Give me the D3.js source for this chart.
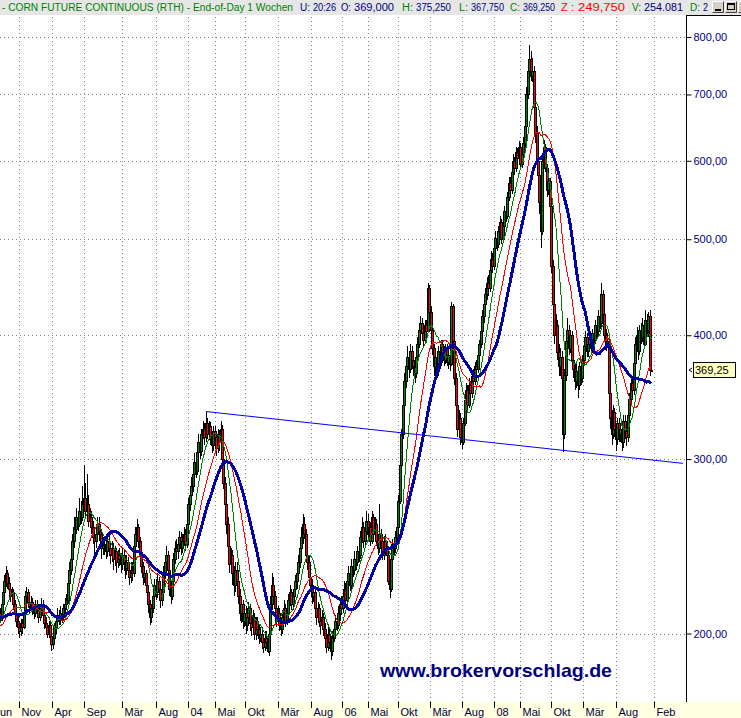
<!DOCTYPE html>
<html><head><meta charset="utf-8">
<script src="https://cdn.jsdelivr.net/npm/d3@7"></script>
<style>body{margin:0;background:#fff;} svg{display:block;font-family:Arial,"Liberation Sans",sans-serif;}</style>
</head><body><svg id="c" width="741" height="718"></svg>
<script>
// ---- data (weekly bars, first 30 are warm-up bars left of the visible area) ----
const warmup = 30;
const closes = [
218,216,220,214,212,216,218,214,210,212,215,208,204,200,203,198,202,200,204,198,200,204,206,202,208,204,200,206,210,208,
214,220,226,230,225,222,218,220,214,210,206,203,201,205,203,210,218,220,215,213,
215,212,210,214,211,208,212,214,209,205,203,200,204,199,195,198,203,206,209,207,
210,208,212,214,216,225,232,238,248,256,255,262,258,266,262,270,274,266,270,260,
262,256,250,248,252,258,254,252,244,246,246,242,248,244,240,244,238,242,236,240,
238,235,240,236,233,236,232,228,232,230,245,252,256,248,240,234,228,230,224,220,
214,208,212,218,224,220,226,222,216,220,230,236,240,232,222,218,226,238,244,242,
246,250,244,248,252,246,258,270,276,282,290,298,292,305,312,306,318,322,316,326,
318,324,314,310,320,316,308,318,312,322,300,284,270,258,245,235,240,230,224,232,
226,218,210,214,206,210,204,208,212,205,203,208,200,206,202,198,200,196,194,198,
196,192,200,214,224,218,212,206,210,204,202,208,212,206,210,216,220,214,218,222,
226,230,236,244,250,258,252,240,236,228,224,218,220,212,208,212,206,204,208,202,
198,194,200,196,192,198,202,206,204,210,214,212,218,222,216,226,230,224,234,232,
238,236,242,240,250,256,248,254,260,252,256,248,262,252,258,248,244,252,248,240,
248,244,240,226,222,238,246,244,250,256,272,296,318,340,360,372,380,370,386,378,
372,366,380,392,405,412,402,396,410,404,446,422,405,388,372,380,368,386,376,392,
384,378,388,376,382,374,428,395,362,340,322,330,316,312,326,344,352,340,356,350,
364,360,372,370,382,392,404,418,430,440,452,446,466,478,470,490,502,494,510,520,
500,516,534,528,552,570,560,584,600,590,612,604,620,596,610,626,650,700,740,760,
730,740,680,640,600,580,545,510,600,620,590,560,572,540,470,430,400,410,385,372,
380,362,318,365,395,405,388,400,378,370,360,368,356,372,362,378,390,398,386,392,
398,388,402,396,410,404,418,412,440,420,400,392,395,350,330,318,335,322,314,326,
318,322,312,328,320,316,332,345,358,352,375,392,400,386,405,398,410,392,414,405,
418,369,369.25];
const highs = [
221,220,222,221,216,218,221,219,215,214,217,216,209,205,206,204,204,203,206,205,202,206,209,207,210,209,206,208,213,212,
216,223,229,234,232,228,225,223,222,216,212,209,205,207,207,212,221,223,222,217,
218,217,214,216,216,213,214,217,216,211,208,205,206,206,201,200,205,208,212,211,
213,212,214,217,219,228,236,242,252,262,262,268,266,274,272,282,296,284,290,276,
268,266,260,254,256,262,262,258,255,250,251,249,252,251,247,248,247,245,244,243,
244,241,244,243,239,240,239,234,236,236,248,256,261,258,250,243,236,233,232,226,
222,216,214,221,227,227,230,228,224,223,234,240,245,242,234,225,229,241,248,249,
250,254,253,252,256,255,262,274,282,288,294,304,302,310,318,316,322,328,326,335,
330,328,327,318,324,324,320,322,321,328,325,304,288,274,262,250,244,243,234,236,
236,229,222,217,216,213,213,211,215,214,208,211,210,208,208,204,203,203,199,201,
201,199,203,218,230,228,221,214,213,212,207,211,216,214,213,219,224,222,221,226,
229,234,240,248,256,264,262,255,244,240,232,227,224,222,215,215,214,209,211,210,
205,201,203,203,199,201,205,209,210,213,217,218,221,226,225,229,234,232,238,238,
242,241,245,246,254,262,259,258,266,264,260,259,266,264,262,261,251,270,255,250,
251,252,248,243,230,240,249,250,254,260,276,300,322,345,366,378,390,384,392,390,
384,378,384,398,410,418,416,408,414,414,452,450,428,410,392,386,384,390,390,396,
396,390,392,392,386,386,432,430,398,366,344,336,334,322,330,348,358,356,362,360,
368,370,376,378,386,396,410,424,436,446,458,460,472,486,484,496,510,508,516,528,
524,522,540,542,558,578,578,590,610,606,620,618,628,626,616,634,660,712,758,785,
775,762,748,690,650,612,590,556,606,630,624,596,578,576,545,476,436,420,414,392,
388,386,368,370,400,416,410,404,404,384,374,374,372,376,376,382,396,404,402,396,
404,402,406,408,414,414,424,422,452,444,424,406,402,398,356,336,340,338,326,330,
330,326,326,332,332,324,336,350,362,362,380,398,408,404,410,412,416,414,424,420,
422,424,375.25];
const lows = [
214,213,214,212,210,211,214,212,208,208,210,206,202,198,199,196,197,198,199,196,196,199,202,200,201,201,198,199,205,205,
206,211,218,223,222,219,215,216,211,207,203,200,198,199,200,202,208,215,212,210,
211,209,207,208,208,205,206,210,207,202,200,198,198,196,192,193,196,200,204,204,
204,205,206,209,211,214,222,229,235,244,249,252,254,256,258,260,266,262,262,256,
256,252,246,240,244,249,248,247,238,240,240,238,239,240,235,236,232,234,230,233,
234,230,232,231,227,229,228,224,225,226,228,242,248,244,237,230,224,225,220,215,
210,204,205,210,215,216,217,218,212,213,217,227,233,228,218,214,216,223,235,238,
238,243,240,241,245,242,244,255,266,272,278,286,287,289,300,300,302,314,310,312,
314,314,310,304,306,310,302,304,306,308,296,280,266,252,240,230,232,224,218,220,
222,214,206,205,202,203,200,201,204,201,199,200,197,197,199,195,196,193,191,192,
193,191,190,198,211,214,209,203,204,201,199,200,206,203,204,208,213,211,211,215,
219,222,227,233,240,246,249,238,232,225,220,214,215,209,204,205,203,200,202,199,
195,191,192,193,188,190,196,199,201,202,206,209,210,215,213,214,223,221,222,228,
229,232,234,236,238,247,244,245,251,249,248,245,246,249,250,245,240,241,244,237,
237,241,236,224,217,220,234,240,241,247,254,270,292,314,336,354,364,362,366,370,
364,358,362,376,388,400,398,388,392,398,402,418,400,382,364,366,362,364,370,372,
380,372,374,372,370,368,372,390,356,334,316,318,310,307,310,324,340,336,338,344,
346,354,356,364,366,378,388,400,412,424,434,438,442,460,462,466,486,486,490,504,
494,496,510,520,524,546,552,556,578,580,584,596,598,590,590,604,620,644,692,726,
722,720,670,626,590,566,530,490,505,592,584,552,554,532,462,424,392,394,378,364,
364,356,305,314,360,390,382,384,372,362,352,354,346,352,356,358,374,386,380,380,
388,382,384,390,392,398,400,406,408,414,396,386,388,344,322,310,314,316,306,310,
312,312,306,308,314,309,312,328,340,346,348,370,386,378,382,392,394,388,390,398,
398,364,367.75];

const maPeriods = [10, 20, 30];
const maColors = ["#008000", "#ff0000", "#0000a8"];
const maWidths = [1, 1, 3];

const yTicks = [200, 300, 400, 500, 600, 700, 800];
const xTickLabels = ["Jun","Nov","Apr","Sep","Mär","Aug","04","Mai","Okt","Mär","Aug","06","Mai","Okt","Mär","Aug","08","Mai","Okt","Mär","Aug","Feb"];
const xTickIdx = [23.5,41.9,64.1,86.1,112.3,135.1,156.9,175.2,195.6,218.1,240.5,261.6,279,299.7,321.2,343.3,365,382.7,403.8,425.6,448,473.8];

const trendIdx = [169.1, 493.6];
const trendVal = [335, 297];
const lastPrice = 369.25;

// header pieces: [x, width, text, colour, fontSize]
const headerParts = [
  [2, 291, "- CORN FUTURE CONTINUOUS (RTH) - End-of-Day 1 Wochen", "#008000", 10],
  [300, 10, "U:", "#000080", 10], [313, 23, "20:26", "#000080", 10],
  [341, 10, "O:", "#000080", 10], [354, 40, "369,000", "#000080", 10],
  [402, 11, "H:", "#008000", 10], [416, 35, "375,250", "#000080", 10],
  [459, 9, "L:", "#008000", 10], [471, 33, "367,750", "#000080", 10],
  [510, 10, "C:", "#008000", 10], [523, 32, "369,250", "#000080", 10],
  [561, 13, "Z :", "#ff0000", 11], [578, 47, "249,750", "#ff0000", 11],
  [632, 9, "V:", "#008000", 10], [644, 39, "254.081", "#000080", 10],
  [690, 10, "D:", "#008000", 10], [703, 5, "2", "#000080", 10]
];

// ---- drawing ----
const svg = d3.select("#c");
const W = 741, H = 718;
const P = {left: 0, right: 686, top: 15, bottom: 702};

const x = d3.scaleLinear().domain([warmup, closes.length - 1]).range([1.5, 651.2]);
const y = d3.scaleLog().domain([200, 800]).range([633.5, 37]);

svg.append("rect").attr("width", W).attr("height", H).attr("fill", "#fff");

// header
svg.append("rect").attr("x", 0).attr("y", 0).attr("width", W).attr("height", 15).attr("fill", "#e6e6e6");
headerParts.forEach(p => {
  svg.append("text").attr("x", p[0]).attr("y", 11).attr("font-size", p[4])
    .attr("textLength", p[1]).attr("lengthAdjust", "spacingAndGlyphs")
    .attr("fill", p[3]).text(p[2]);
});
// window buttons
[712, 725, 738].forEach((bx, k) => {
  const g = svg.append("g");
  g.append("rect").attr("x", bx).attr("y", 1).attr("width", 12).attr("height", 12).attr("fill", "#d4d0c8");
  g.append("path").attr("d", `M${bx+0.5},${12.5}V1.5H${bx+11.5}`).attr("stroke", "#fff").attr("fill", "none");
  g.append("path").attr("d", `M${bx+0.5},${12.5}H${bx+11.5}V1.5`).attr("stroke", "#404040").attr("fill", "none");
  if (k === 0) g.append("rect").attr("x", bx + 3).attr("y", 9).attr("width", 6).attr("height", 2).attr("fill", "#000");
  if (k === 1) g.append("rect").attr("x", bx + 2.5).attr("y", 3.5).attr("width", 7).attr("height", 6).attr("fill", "none").attr("stroke", "#000").attr("stroke-width", 1);
  if (k === 1) g.append("rect").attr("x", bx + 2).attr("y", 3).attr("width", 8).attr("height", 2).attr("fill", "#000");
  if (k === 2) g.append("path").attr("d", `M${bx+3},4L${bx+9},10M${bx+9},4L${bx+3},10`).attr("stroke", "#000").attr("stroke-width", 1.5);
});

// bottom band
svg.append("rect").attr("x", 0).attr("y", P.bottom).attr("width", W).attr("height", H - P.bottom).attr("fill", "#ffffe1");

// grid
const grid = svg.append("g").attr("stroke", "#808080").attr("stroke-dasharray", "1,3").attr("shape-rendering", "crispEdges");
yTicks.forEach(v => {
  const yy = Math.round(y(v)) + 0.5;
  grid.append("line").attr("x1", 0).attr("x2", P.right).attr("y1", yy).attr("y2", yy);
});
xTickIdx.forEach(i => {
  const xx = Math.round(x(i)) + 0.5;
  if (xx > 0) grid.append("line").attr("x1", xx).attr("x2", xx).attr("y1", P.top + 2).attr("y2", P.bottom);
});

// clip
svg.append("clipPath").attr("id", "pc").append("rect")
  .attr("x", P.left).attr("y", P.top).attr("width", P.right - P.left).attr("height", P.bottom - P.top);
const plot = svg.append("g").attr("clip-path", "url(#pc)");

// candles
const bars = closes.map((c, i) => {
  const o = i === 0 ? c : closes[i - 1];
  return {i, o, c, h: Math.max(highs[i], o, c), l: Math.min(lows[i], o, c)};
});
const cg = plot.append("g").attr("shape-rendering", "crispEdges");
bars.forEach(b => {
  const cx = Math.round(x(b.i));
  if (cx < -3) return;
  const yh = Math.round(y(b.h)), yl = Math.round(y(b.l));
  cg.append("rect").attr("x", cx).attr("y", yh).attr("width", 1).attr("height", Math.max(1, yl - yh)).attr("fill", "#000");
  const yt = Math.round(y(Math.max(b.o, b.c))), yb = Math.round(y(Math.min(b.o, b.c)));
  const hh = Math.max(2, yb - yt + 1);
  cg.append("rect").attr("x", cx - 1).attr("y", yt).attr("width", 3).attr("height", hh).attr("fill", "#000");
  if (hh > 2) cg.append("rect").attr("x", cx).attr("y", yt + 1).attr("width", 1).attr("height", hh - 2)
    .attr("fill", b.c >= b.o ? "#008000" : "#ff0000");
});

// moving averages
maPeriods.forEach((p, k) => {
  const pts = [];
  for (let i = p - 1; i < closes.length; i++) {
    pts.push({i, v: d3.mean(closes.slice(i - p + 1, i + 1))});
  }
  plot.append("path").datum(pts)
    .attr("d", d3.line().x(d => x(d.i)).y(d => y(d.v)))
    .attr("fill", "none").attr("stroke", maColors[k]).attr("stroke-width", maWidths[k])
    .attr("shape-rendering", "crispEdges");
});

// trend line
plot.append("line")
  .attr("x1", x(trendIdx[0])).attr("y1", y(trendVal[0]))
  .attr("x2", x(trendIdx[1])).attr("y2", y(trendVal[1]))
  .attr("stroke", "#0000ff").attr("stroke-width", 1);

// right axis
const ax = svg.append("g").attr("transform", `translate(${P.right + 0.5},0)`)
  .call(d3.axisRight(y).tickValues(yTicks).tickSize(5).tickPadding(2)
    .tickFormat(d => d.toFixed(2).replace(".", ",")));
ax.select(".domain").remove();
ax.selectAll(".tick line").attr("stroke", "#000");
ax.selectAll(".tick text").attr("fill", "#000080").attr("font-size", 11).attr("font-family", "Arial, 'Liberation Sans', sans-serif");
svg.append("line").attr("x1", P.right + 0.5).attr("x2", P.right + 0.5).attr("y1", P.top).attr("y2", P.bottom).attr("stroke", "#000");
svg.append("line").attr("x1", P.right).attr("x2", W).attr("y1", P.top + 0.5).attr("y2", P.top + 0.5).attr("stroke", "#000");

// last price marker
const ly = Math.round(y(lastPrice));
svg.append("path").attr("d", `M${P.right + 6},${ly - 2}L${P.right + 3},${ly}L${P.right + 6},${ly + 2}`)
  .attr("fill", "none").attr("stroke", "#000");
svg.append("rect").attr("x", P.right + 7.5).attr("y", ly - 7.5).attr("width", 42).attr("height", 15)
  .attr("fill", "#ffffc0").attr("stroke", "#000");
svg.append("text").attr("x", P.right + 9).attr("y", ly + 4).attr("font-size", 11).attr("fill", "#000")
  .text(lastPrice.toFixed(2).replace(".", ","));

// bottom axis labels
const xa = svg.append("g");
xTickIdx.forEach((i, k) => {
  const xx = Math.round(x(i)) + 0.5;
  xa.append("line").attr("x1", xx).attr("x2", xx).attr("y1", P.bottom).attr("y2", P.bottom + 6).attr("stroke", "#000");
  xa.append("text").attr("x", xx + 2).attr("y", 716).attr("font-size", 11).attr("fill", "#000040").text(xTickLabels[k]);
});

// watermark
svg.append("text").attr("x", 380).attr("y", 677).attr("font-size", 19).attr("font-weight", "bold")
  .attr("fill", "#000080").attr("textLength", 232).attr("lengthAdjust", "spacingAndGlyphs")
  .text("www.brokervorschlag.de");
</script></body></html>
